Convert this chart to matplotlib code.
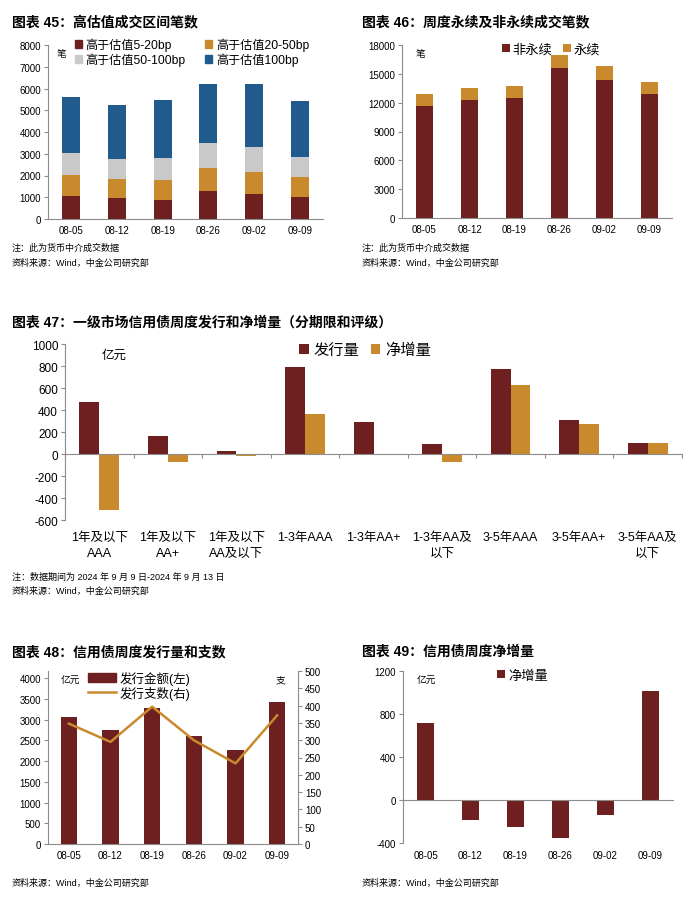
import numpy as np
import matplotlib
matplotlib.use('Agg')
import matplotlib.pyplot as plt
import matplotlib.transforms as mtransforms
from matplotlib.patches import Patch
from matplotlib.lines import Line2D

plt.rcParams['font.family'] = ['Liberation Sans', 'Noto Sans CJK SC']
plt.rcParams['axes.unicode_minus'] = False

MAROON = '#6E1F1F'
GOLD = '#C98A2E'
GREY = '#C9C9C9'
BLUE = '#215A8C'
SPINE = '#8C8C8C'

weeks = ['08-05', '08-12', '08-19', '08-26', '09-02', '09-09']

# chart 45: trades by spread over valuation
bp5_20 = [1050, 950, 870, 1310, 1160, 1010]
bp20_50 = [970, 870, 910, 1030, 1000, 910]
bp50_100 = [1000, 940, 1020, 1140, 1150, 940]
bp100 = [2600, 2500, 2690, 2740, 2890, 2550]

# chart 46: perpetual / non-perpetual trades
non_perp = [11700, 12250, 12500, 15650, 14350, 12950]
perp = [1200, 1250, 1250, 1350, 1450, 1250]

# chart 47: issuance and net financing by tenor & rating
cats47 = ['1年及以下\nAAA', '1年及以下\nAA+', '1年及以下\nAA及以下', '1-3年AAA', '1-3年AA+',
          '1-3年AA及\n以下', '3-5年AAA', '3-5年AA+', '3-5年AA及\n以下']
issue47 = [470, 165, 25, 790, 295, 95, 770, 305, 100]
net47 = [-505, -70, -20, 360, -8, -70, 625, 270, 100]

# chart 48: weekly issuance amount and count
amount48 = [3050, 2750, 3270, 2600, 2270, 3420]
count48 = [348, 295, 397, 300, 233, 372]

# chart 49: weekly net financing
net49 = [720, -185, -250, -350, -140, 1010]

W, H = 700, 904
fig = plt.figure(figsize=(7, 9.04), dpi=100)


def box(l, t, r, b):
    return fig.add_axes([l / W, 1 - b / H, (r - l) / W, (b - t) / H])


def txt(x, y, s, size=7, weight='normal', **kw):
    fig.text(x / W, 1 - y / H, s, fontsize=size, fontweight=weight, va='center', **kw)


def style(ax, fs=7):
    for s in ['top', 'right']:
        ax.spines[s].set_visible(False)
    ax.spines['left'].set_color(SPINE)
    ax.spines['bottom'].set_color(SPINE)
    ax.tick_params(axis='y', length=3, color=SPINE, labelsize=fs, pad=2)
    ax.tick_params(axis='x', length=0, labelsize=fs, pad=4)


x6 = np.arange(len(weeks))

# ---------- chart 45
ax = box(48, 46, 323, 220)
style(ax)
bottom = np.zeros(6)
for vals, c in [(bp5_20, MAROON), (bp20_50, GOLD), (bp50_100, GREY), (bp100, BLUE)]:
    ax.bar(x6, vals, 0.39, bottom=bottom, color=c)
    bottom += np.array(vals)
ax.set_xlim(-0.5, 5.5)
ax.set_ylim(0, 8000)
ax.set_yticks(range(0, 8001, 1000))
ax.set_xticks(x6, weeks)
# column-wise fill, so order gives rows: 5-20 / 20-50, then 50-100 / 100
handles = [Patch(color=MAROON), Patch(color=GREY), Patch(color=GOLD), Patch(color=BLUE)]
labels = ['高于估值5-20bp', '高于估值50-100bp', '高于估值20-50bp', '高于估值100bp']
ax.legend(handles, labels, ncol=2, loc='upper left', bbox_to_anchor=(0.08, 1.07), frameon=False,
          fontsize=8.7, handlelength=0.6, handleheight=0.6, handletextpad=0.3,
          columnspacing=1.6, labelspacing=0.15, borderaxespad=0)
ax.text(0.03, 0.98, '笔', transform=ax.transAxes, fontsize=7, va='top')
txt(12, 22, '图表 45：高估值成交区间笔数', 10, 'bold')
txt(12, 248, '注：此为货币中介成交数据', 6.5)
txt(12, 263, '资料来源：Wind，中金公司研究部', 6.5)

# ---------- chart 46
ax = box(402, 46, 672, 219)
style(ax)
ax.bar(x6, non_perp, 0.39, color=MAROON, label='非永续')
ax.bar(x6, perp, 0.39, bottom=non_perp, color=GOLD, label='永续')
ax.set_xlim(-0.5, 5.5)
ax.set_ylim(0, 18000)
ax.set_yticks(range(0, 18001, 3000))
ax.set_xticks(x6, weeks)
ax.legend(loc='upper left', bbox_to_anchor=(0.35, 1.04), ncol=2, frameon=False, fontsize=9.5,
          handlelength=0.6, handleheight=0.6, handletextpad=0.2, columnspacing=0.8, borderaxespad=0)
ax.text(0.05, 0.98, '笔', transform=ax.transAxes, fontsize=7, va='top')
txt(362, 22, '图表 46：周度永续及非永续成交笔数', 10, 'bold')
txt(362, 248, '注：此为货币中介成交数据', 6.5)
txt(362, 263, '资料来源：Wind，中金公司研究部', 6.5)

# ---------- chart 47
ax = box(65, 345, 682, 521)
style(ax, fs=8.5)
x9 = np.arange(len(cats47))
ax.bar(x9 - 0.145, issue47, 0.29, color=MAROON, label='发行量')
ax.bar(x9 + 0.145, net47, 0.29, color=GOLD, label='净增量')
ax.set_xlim(-0.5, 8.5)
ax.set_ylim(-600, 1000)
ax.set_yticks(range(-600, 1001, 200))
ax.spines['bottom'].set_position(('data', 0))
ax.set_xticks(np.arange(-0.5, 8.6, 1.0), [''] * 10)
ax.tick_params(axis='x', length=3, direction='out', color=SPINE)
tr = mtransforms.blended_transform_factory(ax.transData, ax.transAxes)
for i, c in enumerate(cats47):
    ax.text(i, -0.06, c, transform=tr, ha='center', va='top', fontsize=9, linespacing=1.5)
ax.legend(loc='upper left', bbox_to_anchor=(0.37, 1.04), ncol=2, frameon=False, fontsize=11,
          handlelength=0.6, handleheight=0.7, handletextpad=0.3, columnspacing=0.8, borderaxespad=0)
ax.text(0.06, 0.97, '亿元', transform=ax.transAxes, fontsize=9, va='top')
txt(12, 323, '图表 47：一级市场信用债周度发行和净增量（分期限和评级）', 10, 'bold')
txt(12, 577, '注：数据期间为 2024 年 9 月 9 日-2024 年 9 月 13 日', 6.5)
txt(12, 591, '资料来源：Wind，中金公司研究部', 6.5)

# ---------- chart 48
ax = box(48, 672, 298, 845)
style(ax)
ax.bar(x6, amount48, 0.39, color=MAROON)
ax.set_xlim(-0.5, 5.5)
ax.set_ylim(0, 4170)
ax.set_yticks(range(0, 4001, 500))
ax.set_xticks(x6, weeks)
ax2 = ax.twinx()
ax2.plot(x6, count48, color=GOLD, lw=1.8)
ax2.set_ylim(0, 500)
ax2.set_yticks(range(0, 501, 50))
for s in ['top', 'left', 'bottom']:
    ax2.spines[s].set_visible(False)
ax2.spines['right'].set_color(SPINE)
ax2.tick_params(axis='y', length=3, color=SPINE, labelsize=7, pad=2)
h48 = [Patch(color=MAROON), Line2D([], [], color=GOLD, lw=1.8)]
ax.legend(h48, ['发行金额(左)', '发行支数(右)'], loc='upper left', bbox_to_anchor=(0.14, 1.03),
          frameon=False, fontsize=9, handlelength=2.2, handleheight=0.7, handletextpad=0.3,
          labelspacing=0.1, borderaxespad=0)
ax.text(0.05, 0.98, '亿元', transform=ax.transAxes, fontsize=7, va='top')
ax.text(0.95, 0.98, '支', transform=ax.transAxes, fontsize=7, va='top', ha='right')
txt(12, 652, '图表 48：信用债周度发行量和支数', 10, 'bold')
txt(12, 883, '资料来源：Wind，中金公司研究部', 6.5)

# ---------- chart 49
ax = box(403, 672, 673, 844)
style(ax)
ax.bar(x6, net49, 0.39, color=MAROON, label='净增量')
ax.set_xlim(-0.5, 5.5)
ax.set_ylim(-400, 1200)
ax.set_yticks(range(-400, 1201, 400))
ax.spines['bottom'].set_position(('data', 0))
ax.set_xticks(np.arange(-0.5, 5.6, 1.0), [''] * 7)
ax.tick_params(axis='x', length=0)
tr = mtransforms.blended_transform_factory(ax.transData, ax.transAxes)
for i, w in enumerate(weeks):
    ax.text(i, -0.04, w, transform=tr, ha='center', va='top', fontsize=7)
ax.legend(loc='upper left', bbox_to_anchor=(0.33, 1.04), frameon=False, fontsize=9.5,
          handlelength=0.6, handleheight=0.6, handletextpad=0.2, borderaxespad=0)
ax.text(0.05, 0.98, '亿元', transform=ax.transAxes, fontsize=7, va='top')
txt(362, 652, '图表 49：信用债周度净增量', 10, 'bold')
txt(362, 883, '资料来源：Wind，中金公司研究部', 6.5)

fig.savefig('out.png', dpi=100)
